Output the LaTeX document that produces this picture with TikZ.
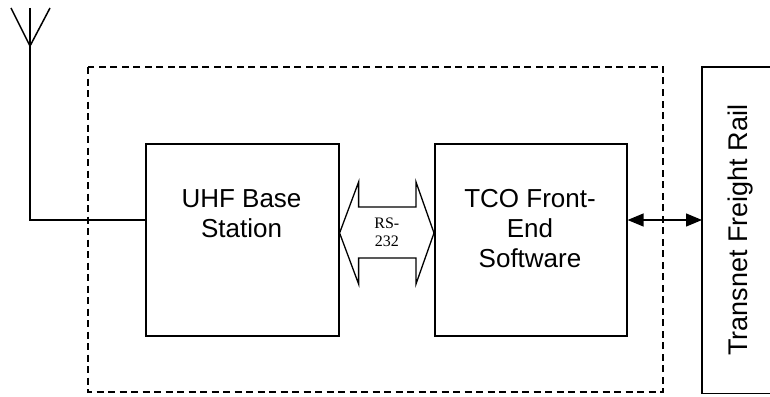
\documentclass[tikz,border=0pt]{standalone}
\usepackage{fontspec}
\setmainfont{Liberation Sans}
\newfontfamily\rsfont{Liberation Serif}
\usetikzlibrary{arrows.meta,calc}
\begin{document}
\begin{tikzpicture}[x=1pt,y=-1pt,
  box/.style={draw, line width=1.6pt, inner sep=0pt},
  lbl/.style={font=\fontsize{26}{29.8}\selectfont, align=center, inner sep=0pt},
  rlbl/.style={font=\fontsize{27}{31}\selectfont, inner sep=0pt},
  rslbl/.style={font=\rsfont\fontsize{16}{18.4}\selectfont, align=center, inner sep=0pt},
  wire/.style={line width=1.5pt},
  dashbox/.style={line width=1.4pt, dash pattern=on 7pt off 4.5pt},
  blockarrow/.style={line width=1.3pt, line join=miter},
  link/.style={line width=1.3pt, {Triangle[length=16pt,width=13pt]}-{Triangle[length=16pt,width=13pt]}}]
\useasboundingbox (0,0) rectangle (770,396);

% system boundary
\draw[dashbox] (88,67) rectangle (663,392);

% boxes
\node[box, minimum width=193pt, minimum height=192pt, anchor=north west] (uhf) at (145,143) {};
\node[box, minimum width=192pt, minimum height=192pt, anchor=north west] (tco) at (434,143) {};
\node[inner sep=0pt, minimum width=68pt, minimum height=326pt, anchor=north west] (tfr) at (702,67) {};
\draw[box] (tfr.north east) -- (tfr.north west) -- (tfr.south west) -- (tfr.south east);

% labels
\node[lbl, anchor=north] (uhft) at (241.5,189.5) {UHF Base\\Station};
\node[lbl, anchor=north] (tcot) at (530,189.5) {TCO Front-\\End\\Software};
\node[rlbl, rotate=90, anchor=base] (tfrt) at (747,230) {Transnet Freight Rail};

% antenna
\coordinate (feed) at (30,220);
\coordinate (mast) at (30,8);
\coordinate (apex) at (30,46);
\draw[wire] ($(mast)+(-19,0)$) -- (apex) -- ($(mast)+(20,0)$);
\draw[wire] (mast) -- (feed) -- (uhf.west |- feed);

% RS-232 block arrow
\coordinate (rsL) at (uhf.east |- 0,233);
\coordinate (rsR) at (tco.west |- 0,233);
\draw[blockarrow] (rsL) -- ($(rsL)+(19,-51)$) -- ($(rsL)+(19,-26)$) -- ($(rsR)+(-18,-26)$)
  -- ($(rsR)+(-18,-51)$) -- (rsR) -- ($(rsR)+(-18,51)$) -- ($(rsR)+(-18,25)$)
  -- ($(rsL)+(19,25)$) -- ($(rsL)+(19,51)$) -- cycle;
\node[rslbl, anchor=north] (rst) at ($(rsL)!0.5!(rsR)+(0,-15.7)$) {RS-\\232};

% link to Transnet
\draw[link] (tco.east |- feed) -- (tfr.west |- feed);
\end{tikzpicture}
\end{document}
